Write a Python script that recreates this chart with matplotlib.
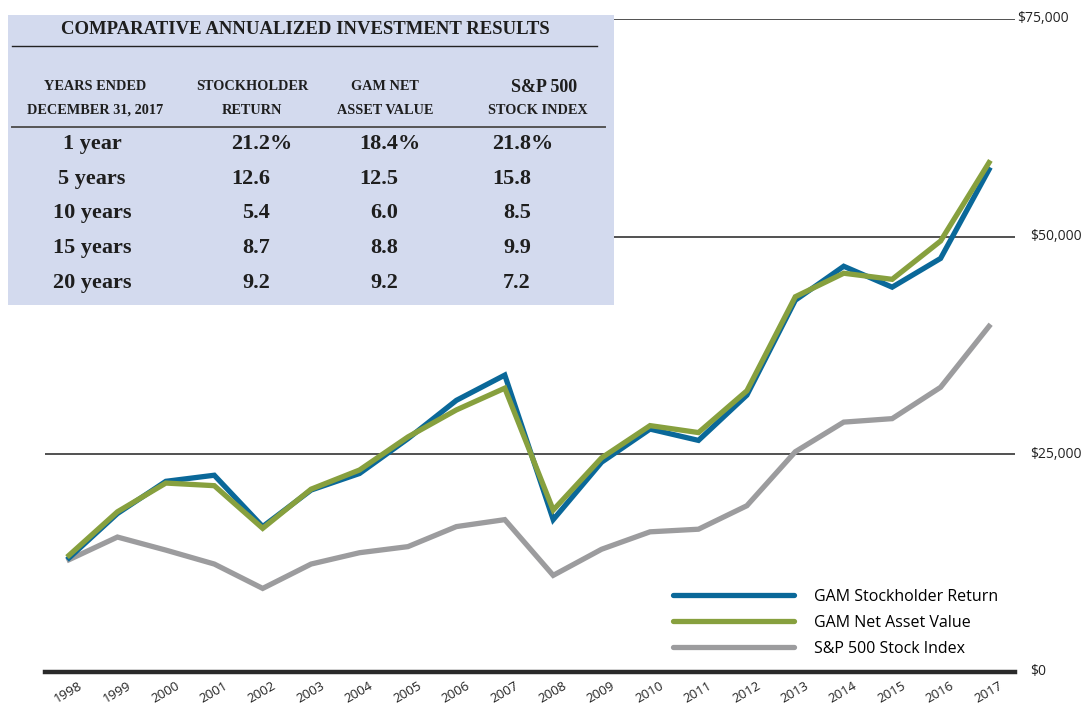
import matplotlib
matplotlib.use("Agg")
import matplotlib.pyplot as plt
from matplotlib.patches import Rectangle
from matplotlib.lines import Line2D

# ---- chart data (in $) ----
years = list(range(1998, 2018))
stockholder_return = [13100, 18200, 21900, 22600, 16700, 20900, 22800, 26800, 31200, 34100,
                      17500, 24100, 27900, 26600, 31800, 42700, 46600, 44200, 47500, 57700]
net_asset_value = [13400, 18400, 21700, 21400, 16500, 21000, 23200, 27000, 30100, 32600,
                   18600, 24600, 28300, 27500, 32300, 43100, 45800, 45100, 49500, 58500]
sp500_index = [12900, 15500, 14000, 12400, 9600, 12400, 13700, 14400, 16700, 17500,
               11100, 14100, 16100, 16400, 19100, 25300, 28700, 29100, 32700, 39700]
y_ticks = [0, 25000, 50000, 75000]
y_labels = ["$0", "$25,000", "$50,000", "$75,000"]
series_names = ["GAM Stockholder Return", "GAM Net Asset Value", "S&P 500 Stock Index"]

# ---- table data ----
table_title = "COMPARATIVE ANNUALIZED INVESTMENT RESULTS"
col_headers = [("YEARS ENDED", "DECEMBER 31, 2017"), ("STOCKHOLDER", "RETURN"),
               ("GAM NET", "ASSET VALUE"), ("S&P 500", "STOCK INDEX")]
periods = ["1 year", "5 years", "10 years", "15 years", "20 years"]
tbl_stockholder = ["21.2%", "12.6", "5.4", "8.7", "9.2"]
tbl_nav = ["18.4%", "12.5", "6.0", "8.8", "9.2"]
tbl_sp500 = ["21.8%", "15.8", "8.5", "9.9", "7.2"]

blue = "#0a6899"
green = "#87a03e"
gray = "#9c9c9e"
W, H = 1092, 709

def fx(px):
    return px / W

def fy(py):
    return 1 - py / H

fig = plt.figure(figsize=(W / 100, H / 100), dpi=100)
ax = fig.add_axes([fx(45), fy(672), fx(1015) - fx(45), fy(19) - fy(672)])
x0 = years[0] - (69 - 45) / 48.4
x1 = years[-1] + (1015 - 989) / 48.4
ax.set_xlim(x0, x1)
ax.set_ylim(0, 75000)
for s in ax.spines.values():
    s.set_visible(False)
ax.set_xticks([])
ax.set_yticks([])
ax.patch.set_alpha(0)

# grid lines
ax.axhline(25000, color="#222222", lw=1.1, zorder=1)
ax.axhline(50000, xmin=(614 - 45) / 970, color="#222222", lw=1.1, zorder=1)
ax.axhline(75000, xmin=(614 - 45) / 970, color="#222222", lw=1.1, zorder=1)
ax.axhline(0, color="#2a2a2a", lw=3.2, zorder=1, clip_on=False)

lw = 3.8
ax.plot(years, sp500_index, color=gray, lw=lw, solid_joinstyle="miter", zorder=3)
ax.plot(years, stockholder_return, color=blue, lw=lw, solid_joinstyle="miter", zorder=4)
ax.plot(years, net_asset_value, color=green, lw=lw, solid_joinstyle="miter", zorder=5)

# right-side value labels
mixed = matplotlib.transforms.blended_transform_factory(fig.transFigure, ax.transData)
for v, lab in zip(y_ticks, y_labels):
    xoff = 1017 if v == 75000 else 1030
    ax.text(fx(xoff), v, lab, transform=mixed, ha="left", va="center", fontsize=10,
            family="Open Sans", color="#222222")

# year labels
for yr in years:
    ax.text(yr - 0.08, -1700, str(yr), rotation=30, ha="center", va="top", fontsize=9.5,
            family="Open Sans", color="#222222", rotation_mode="anchor")

# legend
handles = [Line2D([], [], color=c, lw=3.8, solid_capstyle="round") for c in (blue, green, gray)]
fig.legend(handles, series_names, loc="upper left", bbox_to_anchor=(fx(665), fy(581)),
           frameon=False, handlelength=7.6, handletextpad=1.2,
           labelspacing=0.62, borderpad=0, prop={"family": "Open Sans", "size": 11.5})

# ---- table panel ----
fig.patches.append(Rectangle((fx(8), fy(305)), fx(614) - fx(8), fy(15) - fy(305),
                             transform=fig.transFigure, facecolor="#d3daee",
                             edgecolor="none", zorder=6))
serif = "Liberation Serif"
txt = dict(transform=fig.transFigure, family=serif, color="#1e1e1e", zorder=7,
           fontweight="bold")
fig.text(fx(305), fy(30), table_title, ha="center", va="center", fontsize=13.5, **txt)
fig.add_artist(Line2D([fx(12), fx(597)], [fy(46), fy(46)], color="#222222", lw=1.0,
                      transform=fig.transFigure, zorder=7))
fig.add_artist(Line2D([fx(12), fx(605)], [fy(127), fy(127)], color="#555555", lw=1.4,
                      transform=fig.transFigure, zorder=7))

head_x = [95, 252, 385, 538]
for hx, (l1, l2) in zip(head_x, col_headers):
    size1 = 13 if l1.startswith("S&P") else 10.3
    fig.text(fx(hx + (6 if l1.startswith("S&P") else 0)), fy(87), l1, ha="center",
             va="center", fontsize=size1, **txt)
    fig.text(fx(hx), fy(110), l2, ha="center", va="center", fontsize=10.3, **txt)

row_y = [144, 179, 213, 248, 283]
for ry, per in zip(row_y, periods):
    fig.text(fx(92), fy(ry), per, ha="center", va="center", fontsize=16, **txt)
for right, col in zip([270, 398, 531], [tbl_stockholder, tbl_nav, tbl_sp500]):
    for ry, val in zip(row_y, col):
        num = val.rstrip("%")
        fig.text(fx(right), fy(ry), num, ha="right", va="center", fontsize=16, **txt)
        if val.endswith("%"):
            fig.text(fx(right), fy(ry), "%", ha="left", va="center", fontsize=16, **txt)

fig.savefig("out.png", dpi=100)
